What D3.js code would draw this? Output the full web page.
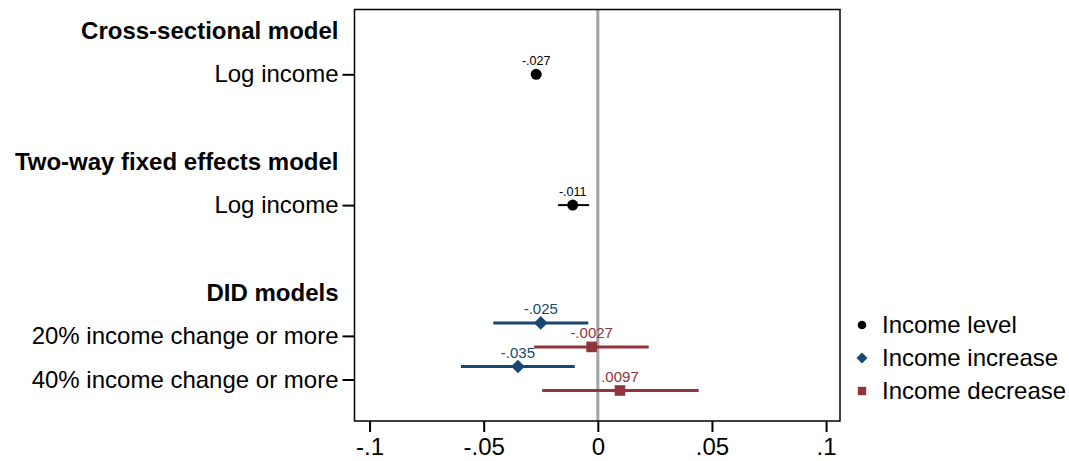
<!DOCTYPE html>
<html>
<head>
<meta charset="utf-8">
<script src="https://cdn.jsdelivr.net/npm/d3@7"></script>
<style>
  html, body { margin: 0; padding: 0; background: #fff; }
  svg { display: block; font-family: "Liberation Sans", Arial, sans-serif; }
</style>
</head>
<body>
<svg id="chart" width="1069" height="461"></svg>
<script>
// Vertical slots of the coefficient plot (group headers, rows, spacers)
const slots = ["hdrCS", "cs", "gap1", "hdrFE", "fe", "gap2", "hdrDID", "did20", "did40"];
const headerLabels = { hdrCS: "Cross-sectional model", hdrFE: "Two-way fixed effects model", hdrDID: "DID models" };
const rowLabels = { cs: "Log income", fe: "Log income", did20: "20% income change or more", did40: "40% income change or more" };

// Point estimates with 95% confidence intervals
const incomeLevel = [
  { row: "cs", est: -0.027, lo: -0.0292, hi: -0.0248 },
  { row: "fe", est: -0.011, lo: -0.0174, hi: -0.0038 }
];
const incomeIncrease = [
  { row: "did20", est: -0.025, lo: -0.0458, hi: -0.0042 },
  { row: "did40", est: -0.035, lo: -0.0600, hi: -0.0101 }
];
const incomeDecrease = [
  { row: "did20", est: -0.0027, lo: -0.0279, hi: 0.0223 },
  { row: "did40", est: 0.0097, lo: -0.0244, hi: 0.0442 }
];

const xTicks = [-0.1, -0.05, 0, 0.05, 0.1];
const xTickLabels = ["-.1", "-.05", "0", ".05", ".1"];
const seriesNames = ["Income level", "Income increase", "Income decrease"];

const svg = d3.select("#chart");
const plot = { left: 354.5, right: 840, top: 9.5, bottom: 421 };
const fontSize = 24;

const x = d3.scaleLinear().domain([-0.1066, 0.1061]).range([plot.left, plot.right]);
const y = d3.scalePoint().domain(slots).range([30.7, 379.5]);

// Stata-style number label: drop the leading zero
const fmt = v => String(v).replace(/^(-?)0\./, "$1.");

// Zero reference line
svg.append("line")
  .attr("x1", x(0)).attr("x2", x(0))
  .attr("y1", plot.top).attr("y2", plot.bottom)
  .attr("stroke", "#a3a3a3").attr("stroke-width", 3);

// Plot frame
svg.append("rect")
  .attr("x", plot.left).attr("y", plot.top)
  .attr("width", plot.right - plot.left).attr("height", plot.bottom - plot.top)
  .attr("fill", "none").attr("stroke", "#000").attr("stroke-width", 1.5);

// X axis
const xAxis = d3.axisBottom(x).tickValues(xTicks).tickSize(11).tickPadding(6)
  .tickFormat((d, i) => xTickLabels[i]);
const gx = svg.append("g").attr("transform", `translate(0,${plot.bottom})`).call(xAxis);
gx.select(".domain").remove();
gx.selectAll(".tick line").attr("stroke", "#000").attr("stroke-width", 2);
gx.selectAll(".tick text").attr("font-size", fontSize).attr("fill", "#000")
  .attr("font-family", "'Liberation Sans', Arial, sans-serif");

// Y axis: row ticks and labels
const rowKeys = Object.keys(rowLabels);
const gy = svg.append("g").attr("transform", `translate(${plot.left},0)`)
  .call(d3.axisLeft(y).tickValues(rowKeys).tickSize(12).tickPadding(4).tickFormat(k => rowLabels[k]));
gy.select(".domain").remove();
gy.selectAll(".tick line").attr("stroke", "#000").attr("stroke-width", 2);
gy.selectAll(".tick text").attr("font-size", fontSize).attr("fill", "#000")
  .attr("font-family", "'Liberation Sans', Arial, sans-serif");

// Group headers
svg.append("g").selectAll("text")
  .data(Object.keys(headerLabels))
  .join("text")
  .attr("x", plot.left - 16)
  .attr("y", k => y(k))
  .attr("dy", "0.35em")
  .attr("text-anchor", "end")
  .attr("font-size", fontSize).attr("font-weight", "bold")
  .text(k => headerLabels[k]);

const series = [
  { name: seriesNames[0], data: incomeLevel, color: "#000000", offset: 0, shape: "circle", size: 5.5, lw: 2, fs: 12.5 },
  { name: seriesNames[1], data: incomeIncrease, color: "#1a476f", offset: -13, shape: "diamond", size: 6.8, lw: 3, fs: 15 },
  { name: seriesNames[2], data: incomeDecrease, color: "#90353b", offset: 11, shape: "square", size: 5.3, lw: 3, fs: 15 }
];

function drawMarker(g, shape, r, color) {
  if (shape === "circle") {
    g.append("circle").attr("r", r).attr("fill", color);
  } else if (shape === "diamond") {
    g.append("path").attr("d", `M0,${-r}L${r},0L0,${r}L${-r},0Z`).attr("fill", color);
  } else {
    g.append("rect").attr("x", -r).attr("y", -r).attr("width", 2 * r).attr("height", 2 * r).attr("fill", color);
  }
}

series.forEach(s => {
  const g = svg.append("g");
  s.data.forEach(d => {
    const cy = y(d.row) + s.offset;
    g.append("line")
      .attr("x1", x(d.lo)).attr("x2", x(d.hi))
      .attr("y1", cy).attr("y2", cy)
      .attr("stroke", s.color).attr("stroke-width", s.lw);
    const m = g.append("g").attr("transform", `translate(${x(d.est)},${cy})`);
    drawMarker(m, s.shape, s.size, s.color);
    g.append("text")
      .attr("x", x(d.est)).attr("y", cy - 9)
      .attr("text-anchor", "middle")
      .attr("font-size", s.fs).attr("fill", s.color)
      .text(fmt(d.est));
  });
});

// Legend
const legend = svg.append("g").attr("transform", "translate(862,0)");
const legendY = d3.scalePoint().domain(seriesNames).range([325, 391]);
series.forEach(s => {
  const row = legend.append("g").attr("transform", `translate(0,${legendY(s.name)})`);
  const r = s.shape === "circle" ? 4.3 : (s.shape === "diamond" ? 5.5 : 4.2);
  drawMarker(row, s.shape, r, s.color);
  row.append("text").attr("x", 20).attr("dy", "0.35em")
    .attr("font-size", fontSize).attr("fill", "#000").text(s.name);
});
</script>
</body>
</html>
